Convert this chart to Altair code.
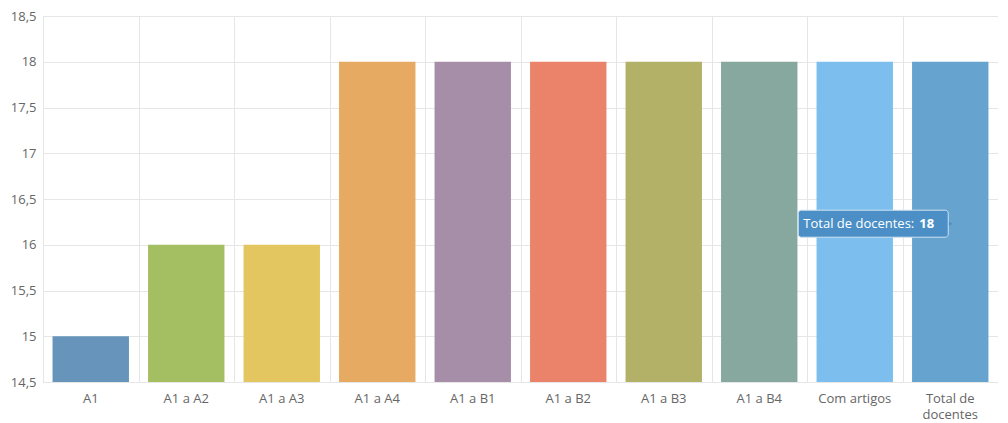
import altair as alt
import pandas as pd

categories = ["A1", "A1 a A2", "A1 a A3", "A1 a A4", "A1 a B1", "A1 a B2",
              "A1 a B3", "A1 a B4", "Com artigos", "Total de docentes"]
values = [15, 16, 16, 18, 18, 18, 18, 18, 18, 18]
colors = ["#6694ba", "#a3bf62", "#e3c65f", "#e6aa62", "#a68ea9", "#eb836a",
          "#b3b068", "#86a89f", "#7cbfef", "#66a4cf"]
y_ticks = [14.5, 15, 15.5, 16, 16.5, 17, 17.5, 18, 18.5]
y_min, y_max = 14.5, 18.5

tip_category = ["Com artigos"]
tip_value = [16.23]
tip_label = ["Total de docentes:"]
tip_number = ["18"]

df = pd.DataFrame({"cat": categories, "val": values, "base": [y_min] * len(values)})
tip = pd.DataFrame({"cat": tip_category, "val": tip_value,
                    "label": tip_label, "num": tip_number})

FONT = "Open Sans"
W, H = 955, 366

y_axis = alt.Axis(title=None, values=y_ticks, ticks=False, domain=False,
                  grid=True, gridColor="#e6e6e6", labelFontSize=13,
                  labelColor="#666666", labelFont=FONT, labelPadding=7,
                  labelExpr="replace(format(datum.value, '~g'), '.', ',')")
y_scale = alt.Scale(domain=[y_min, y_max], zero=False, nice=False)

x_main = alt.X("cat:N", sort=categories,
               scale=alt.Scale(paddingInner=0.2, paddingOuter=0.1),
               axis=alt.Axis(title=None, labelAngle=0, ticks=False, domain=False,
                             grid=False, labelPadding=10, labelFontSize=13,
                             labelColor="#666666", labelFont=FONT,
                             labelLimit=200, labelLineHeight=16,
                             labelExpr="datum.label == 'Total de docentes' ? ['Total de', 'docentes'] : datum.label",
                             orient="bottom"))
y_main = alt.Y("val:Q", scale=y_scale, axis=y_axis)

bars = alt.Chart(df).mark_bar().encode(
    x=x_main,
    y=y_main,
    y2="base:Q",
    color=alt.Color("cat:N", sort=categories,
                    scale=alt.Scale(domain=categories, range=colors), legend=None),
)

box = alt.Chart(tip).mark_rect(width=150, height=27, cornerRadius=3, xOffset=18.5,
                               color="#4b8fc6", stroke="#cfe1f0", strokeWidth=1).encode(
    x=alt.X("cat:N", sort=categories), y=alt.Y("val:Q"))
arrow = alt.Chart(tip).mark_point(shape="triangle-right", filled=True, size=45,
                                  xOffset=95, color="#4b8fc6", opacity=1).encode(
    x=alt.X("cat:N", sort=categories), y=alt.Y("val:Q"))
t1 = alt.Chart(tip).mark_text(align="right", baseline="middle", dx=59.5, font=FONT,
                              fontSize=13, color="white").encode(
    x=alt.X("cat:N", sort=categories), y=alt.Y("val:Q"), text="label:N")
t2 = alt.Chart(tip).mark_text(align="left", baseline="middle", dx=64.5, font=FONT,
                              fontSize=13, fontWeight="bold", color="white").encode(
    x=alt.X("cat:N", sort=categories), y=alt.Y("val:Q"), text="num:N")

main = alt.layer(bars, arrow, box, t1, t2)

grid = alt.Chart(df).mark_point(opacity=0).encode(
    x=alt.X("cat:N", sort=categories,
            scale=alt.Scale(paddingInner=0, paddingOuter=0),
            axis=alt.Axis(title=None, labels=False, ticks=False, domain=False,
                          grid=True, gridColor="#e6e6e6", bandPosition=0,
                          tickBand="extent", orient="top")),
    y=alt.Y("val:Q", scale=y_scale, axis=y_axis),
)

chart = alt.layer(grid, main).resolve_scale(x="independent").properties(
    width=W, height=H,
    padding={"left": 2, "top": 2, "right": 0, "bottom": 0},
).configure_view(strokeWidth=0).configure(font=FONT)

chart.save("out.html", embed_options={"renderer": "svg", "actions": False})
